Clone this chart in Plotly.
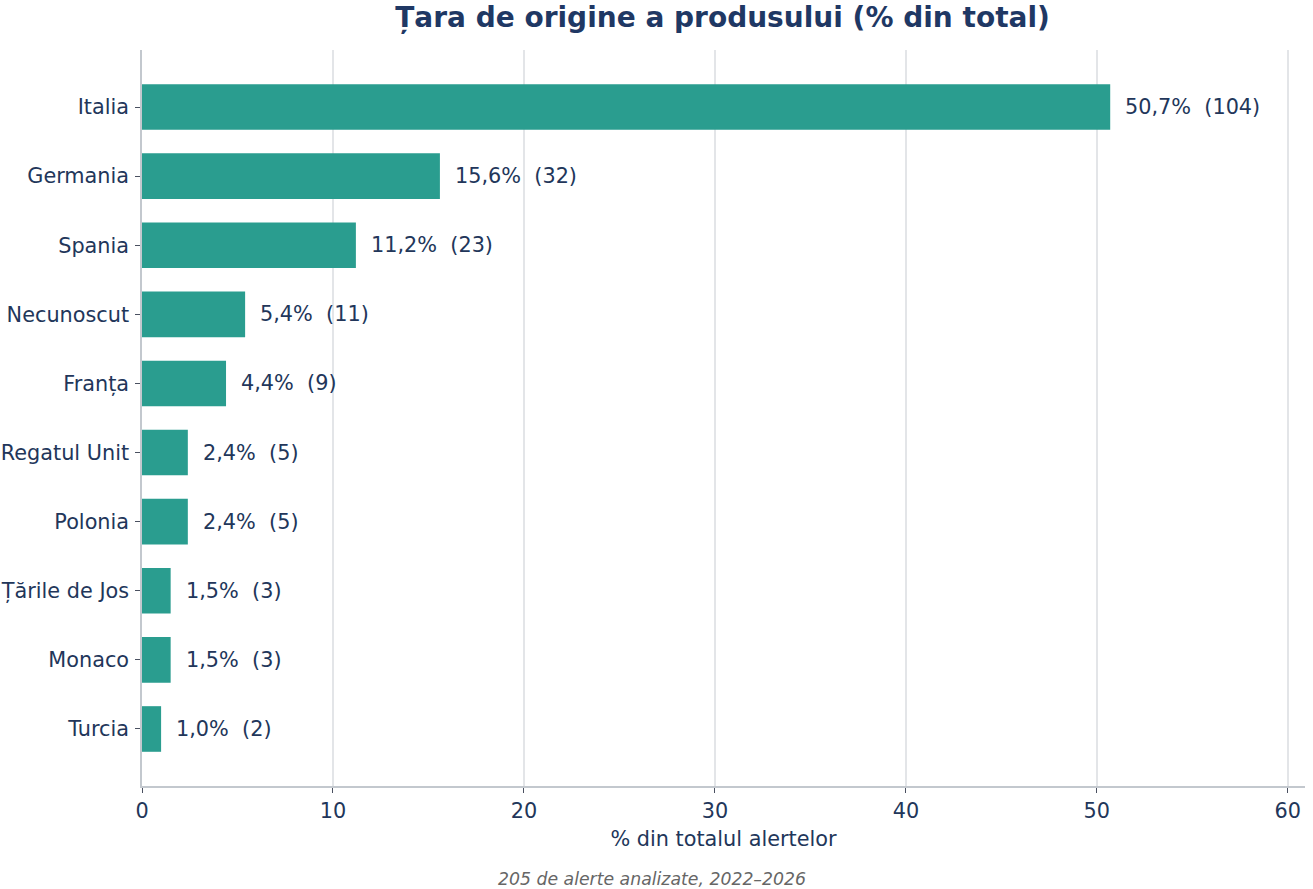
import plotly.graph_objects as go

tari = ['Italia', 'Germania', 'Spania', 'Necunoscut', 'Franța',
        'Regatul Unit', 'Polonia', 'Țările de Jos', 'Monaco', 'Turcia']
procente = [50.7, 15.6, 11.2, 5.4, 4.4, 2.4, 2.4, 1.5, 1.5, 1.0]
numar = [104, 32, 23, 11, 9, 5, 5, 3, 3, 2]

text_col = '#22365a'
font = 'DejaVu Sans'
fs = 20.8

fig = go.Figure(go.Bar(
    x=procente, y=tari, orientation='h',
    marker=dict(color='#2a9d8f', line=dict(width=0)),
    width=0.66, hoverinfo='skip'))

for t, p, n in zip(tari, procente, numar):
    label = f'{p:.1f}'.replace('.', ',') + '%  (' + str(n) + ')'
    fig.add_annotation(x=p, y=t, text=label, showarrow=False,
                       xanchor='left', xshift=13,
                       font=dict(family=font, size=fs, color=text_col))

fig.add_annotation(text='205 de alerte analizate, 2022–2026',
                   xref='paper', yref='paper', x=0.4385, y=-0.126,
                   showarrow=False, yanchor='middle', xanchor='center',
                   font=dict(family=font, size=17.3, color='#666666', style='italic'))

fig.update_layout(
    width=1313, height=889,
    paper_bgcolor='white', plot_bgcolor='white',
    margin=dict(l=142, r=8, t=50, b=103, autoexpand=False),
    showlegend=False,
    font=dict(family=font, size=fs, color=text_col),
    title=dict(text='<b>Țara de origine a produsului (% din total)</b>',
               x=0.5503, xanchor='center', y=0.981, yanchor='middle',
               font=dict(family=font, size=28, color='#1f3864')),
)
fig.update_xaxes(range=[0, 60.9], dtick=10, showgrid=True, gridcolor='#e3e5e8',
                 gridwidth=1.5, zeroline=False, showline=True, linecolor='#c3c8ce',
                 linewidth=1.5, ticks='outside', ticklen=5, tickcolor='#4a5060',
                 ticklabelstandoff=0,
                 title=dict(text='% din totalul alertelor', standoff=10,
                            font=dict(family=font, size=fs, color=text_col)))
fig.update_yaxes(range=[9.825, -0.825], showgrid=False, zeroline=False,
                 showline=True, linecolor='#c3c8ce', linewidth=1.5,
                 ticks='outside', ticklen=5, tickcolor='#4a5060',
                 ticklabelstandoff=2)

# drop the default 8px body margin so the figure fills the window
fig.write_html('out.html', config={'displayModeBar': False},
               post_script="document.body.style.margin='0';")
